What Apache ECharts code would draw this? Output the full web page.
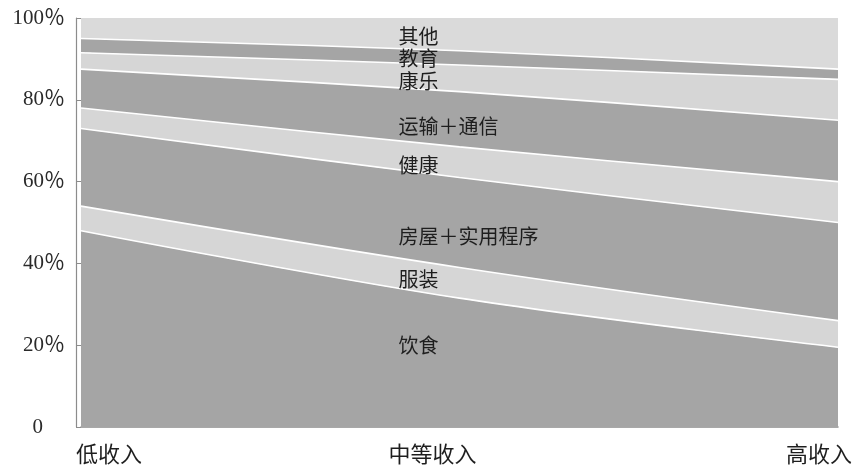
<!DOCTYPE html>
<html>
<head>
<meta charset="utf-8">
<script src="https://cdn.jsdelivr.net/npm/echarts@6/dist/echarts.min.js"></script>
<style>
  html, body { margin: 0; padding: 0; background: #ffffff; }
  #chart { width: 858px; height: 469px; }
</style>
</head>
<body>
<div id="chart"></div>
<script>
// Household spending shares (%) by income group, stacked to 100%
const categories = ['低收入', '中等收入', '高收入'];
const food       = [48, 31.5, 19.5];
const clothing   = [6, 7.5, 6.5];
const housing    = [19, 22, 24];
const health     = [5, 7.5, 10];
const transport  = [9.5, 13.5, 15];
const recreation = [4, 6.5, 10];
const education  = [3.5, 3.5, 2.5];
const other      = [5, 8, 12.5];

const seriesNames = ['饮食', '服装', '房屋＋实用程序', '健康', '运输＋通信', '康乐', '教育', '其他'];
const seriesValues = [food, clothing, housing, health, transport, recreation, education, other];
// vertical level (in %) of each band's name, placed at the middle-income column
const labelLevels = [20, 36, 46.5, 64, 73.5, 84.5, 90, 95.5];
const yTickValues = [0, 20, 40, 60, 80, 100];

const DARK = '#a5a5a5';
const LIGHT = '#d6d6d6';
const bandColors = [DARK, LIGHT, DARK, LIGHT, DARK, LIGHT, DARK, '#dadada'];

const SERIF = "'Liberation Serif', 'DejaVu Serif', 'Noto Sans CJK SC', serif";
const CJK = "'Noto Sans CJK SC', 'Liberation Serif', sans-serif";

const series = seriesNames.map((name, i) => ({
  name: name,
  type: 'line',
  stack: 'total',
  smooth: 0.35,
  symbol: 'none',
  data: seriesValues[i],
  lineStyle: { color: '#ffffff', width: i === seriesNames.length - 1 ? 0 : 1.6 },
  areaStyle: { color: bandColors[i], opacity: 1 },
  emphasis: { disabled: true },
  markPoint: {
    symbol: 'circle',
    symbolSize: 0,
    silent: true,
    data: [{ coord: [categories[1], labelLevels[i]] }],
    label: {
      show: true,
      position: 'right',
      distance: 0,
      offset: [-61, 0],
      formatter: name,
      color: '#1e1e1e',
      fontSize: 20,
      fontFamily: CJK
    }
  }
}));

const chart = echarts.init(document.getElementById('chart'), null, { renderer: 'canvas' });
chart.setOption({
  animation: false,
  backgroundColor: '#ffffff',
  grid: { left: 81, right: 20, top: 18, bottom: 42 },
  xAxis: {
    type: 'category',
    data: categories,
    boundaryGap: false,
    offset: 2,
    axisLine: { lineStyle: { color: '#8c8c8c', width: 1.5 } },
    axisTick: { show: false },
    axisLabel: {
      margin: 14,
      alignMinLabel: 'center',
      alignMaxLabel: 'center',
      color: '#1e1e1e',
      fontSize: 22,
      fontFamily: CJK,
      formatter: (v, idx) => ['{a|', '{b|', '{c|'][idx] + v + '}',
      rich: {
        a: { fontSize: 22, fontFamily: CJK, color: '#1e1e1e', padding: [0, 0, 0, 56] },
        b: { fontSize: 22, fontFamily: CJK, color: '#1e1e1e', padding: [0, 54, 0, 0] },
        c: { fontSize: 22, fontFamily: CJK, color: '#1e1e1e', padding: [0, 38, 0, 0] }
      }
    },
    splitLine: { show: false }
  },
  yAxis: {
    type: 'value',
    min: yTickValues[0],
    max: yTickValues[yTickValues.length - 1],
    interval: yTickValues[1] - yTickValues[0],
    offset: 5,
    axisLine: { show: true, lineStyle: { color: '#8c8c8c', width: 1.2 } },
    axisTick: { show: true, inside: true, length: 5, lineStyle: { color: '#8c8c8c' } },
    splitLine: { show: false },
    axisLabel: {
      margin: 11,
      color: '#2a2a2a',
      fontSize: 21,
      fontFamily: SERIF,
      formatter: v => (v === 0 ? '{z|0}' : v + '％'),
      rich: {
        z: { fontSize: 21, fontFamily: SERIF, color: '#2a2a2a', padding: [0, 22, 0, 0] }
      }
    }
  },
  series: series
});
</script>
</body>
</html>
